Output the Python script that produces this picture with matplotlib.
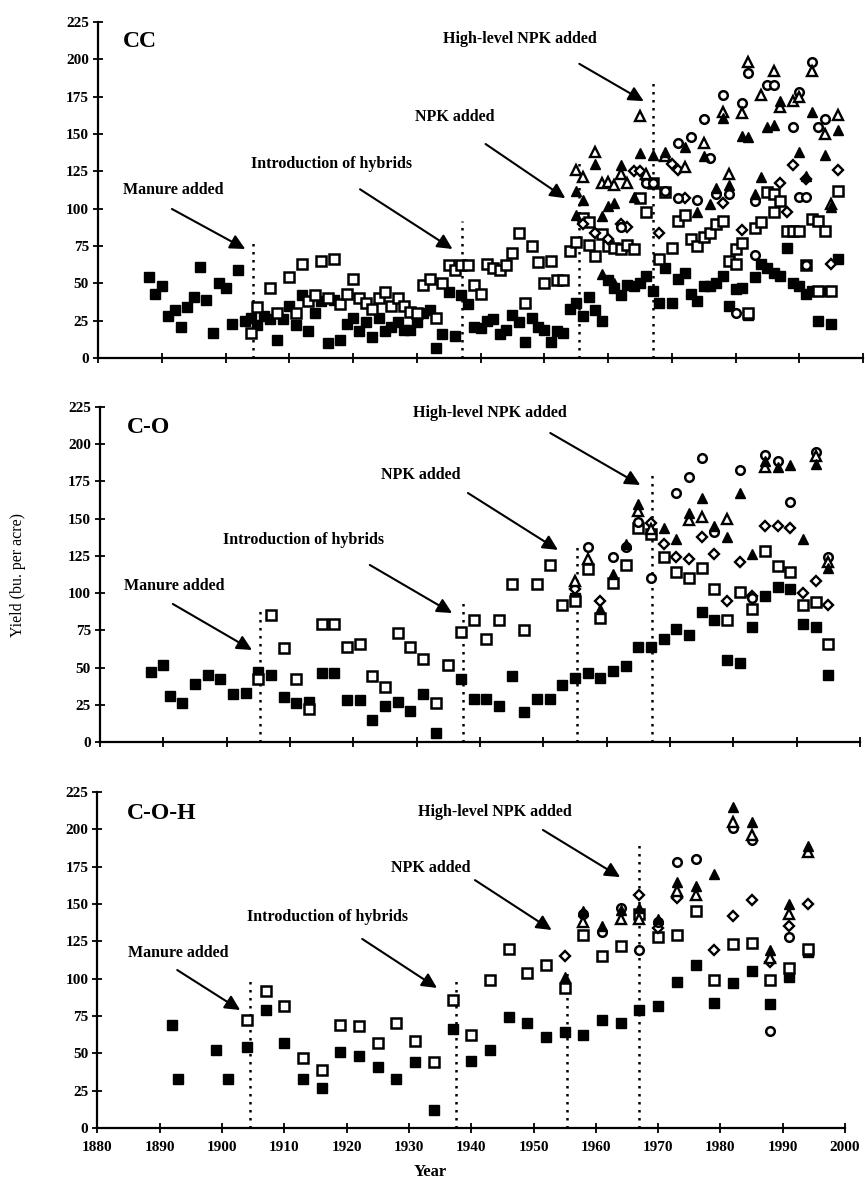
import matplotlib
matplotlib.use("Agg")
import matplotlib.pyplot as plt

# ---------------- DATA ----------------
# CC panel
cc_none_years = list(range(1888, 1997))
cc_none_vals = [54, 43, 48, 28, 32, 21, 34, 41, 61, 39, 17, 50, 47, 23, 59, 25, 27, 22, 28, 26,
                12, 26, 35, 22, 42, 18, 30, 38, 10, 39, 12, 23, 27, 18, 24, 14, 27, 18, 21, 24,
                19, 19, 24, 30, 32, 7, 16, 44, 15, 42, 36, 21, 20, 25, 26, 16, 19, 29, 24, 11,
                27, 21, 19, 11, 18, 17, 33, 37, 28, 41, 32, 25, 52, 47, 42, 49, 48, 50, 55, 45,
                37, 60, 37, 53, 57, 43, 38, 48, 48, 50, 55, 35, 46, 47, 29, 54, 63, 60, 57, 55,
                74, 50, 48, 43, 45, 25, 45, 23, 66]
cc_manure_years = [1904, 1905, 1907, 1908, 1910, 1911, 1912, 1913, 1914, 1915, 1916, 1917, 1918,
                   1919, 1920, 1921, 1922, 1923, 1924, 1925, 1926, 1927, 1928, 1929, 1930, 1931,
                   1932, 1933, 1934, 1935, 1936, 1937, 1938, 1939, 1940, 1941, 1942, 1943, 1944,
                   1945, 1946, 1947, 1948, 1949, 1950, 1951, 1952, 1953, 1954, 1955, 1956, 1957,
                   1957, 1958, 1959, 1960, 1961, 1962, 1963, 1964, 1965, 1966, 1967, 1968, 1969,
                   1970, 1971, 1972, 1973, 1974, 1975, 1976, 1977, 1978, 1979, 1980, 1980, 1981,
                   1982, 1983, 1984, 1985, 1986, 1986, 1987, 1988, 1989, 1990, 1991, 1992, 1993,
                   1993, 1994, 1995, 1996]
cc_manure_vals = [17, 34, 47, 30, 54, 30, 63, 38, 42, 65, 40, 66, 36, 43, 53, 40, 37, 33, 40, 44,
                  35, 40, 35, 31, 30, 49, 53, 27, 50, 62, 59, 62, 62, 49, 43, 63, 60, 59, 62, 70,
                  84, 37, 75, 64, 50, 65, 52, 52, 72, 78, 94, 76, 91, 68, 83, 75, 74, 73, 76, 73,
                  107, 98, 117, 66, 111, 74, 92, 96, 80, 75, 81, 84, 90, 92, 65, 63, 73, 77, 30,
                  87, 91, 111, 98, 110, 105, 85, 85, 85, 62, 93, 92, 45, 85, 45, 112]
cc_diamond_years = [1956, 1958, 1960, 1962, 1963, 1964, 1965, 1966, 1968, 1970, 1971, 1972, 1978,
                    1981, 1987, 1988, 1989, 1991, 1995, 1996]
cc_diamond_vals = [90, 84, 80, 90, 88, 125, 125, 120, 84, 130, 126, 107, 104, 86, 117, 98, 129,
                   120, 63, 126]
cc_circle_years = [1962, 1966, 1967, 1969, 1971, 1971, 1973, 1974, 1975, 1976, 1977, 1978, 1979,
                   1980, 1981, 1982, 1983, 1983, 1985, 1986, 1989, 1990, 1990, 1991, 1991, 1992,
                   1993, 1994]
cc_circle_vals = [88, 117, 117, 112, 144, 107, 148, 106, 160, 134, 110, 176, 110, 30, 171, 191,
                  69, 105, 183, 183, 155, 178, 108, 108, 62, 198, 155, 160]
cc_tri_open_years = [1955, 1956, 1958, 1959, 1960, 1961, 1962, 1963, 1965, 1966, 1969, 1972, 1975,
                     1978, 1979, 1981, 1982, 1984, 1986, 1987, 1989, 1990, 1992, 1994, 1995, 1996]
cc_tri_open_vals = [126, 121, 138, 117, 118, 116, 123, 117, 162, 123, 135, 128, 144, 165, 123,
                    164, 198, 176, 192, 168, 172, 175, 192, 150, 103, 163]
cc_tri_fill_years = [1955, 1955, 1956, 1958, 1959, 1959, 1960, 1961, 1961, 1962, 1964, 1965, 1967,
                     1969, 1972, 1974, 1975, 1976, 1977, 1978, 1979, 1981, 1982, 1983, 1984, 1985,
                     1986, 1987, 1990, 1991, 1992, 1994, 1995, 1996]
cc_tri_fill_vals = [112, 96, 106, 130, 95, 56, 102, 104, 50, 129, 108, 137, 136, 138, 141, 98,
                    135, 103, 114, 161, 116, 149, 148, 110, 121, 155, 156, 172, 138, 122, 165,
                    136, 101, 153]

# C-O panel
co_none_years = [1888, 1890, 1891, 1893, 1895, 1897, 1899, 1901, 1903, 1905, 1907, 1909, 1911,
                 1913, 1915, 1917, 1919, 1921, 1923, 1925, 1927, 1929, 1931, 1933, 1935, 1937,
                 1939, 1941, 1943, 1945, 1947, 1949, 1951, 1953, 1955, 1955, 1957, 1959, 1961,
                 1963, 1965, 1967, 1969, 1971, 1973, 1975, 1977, 1979, 1981, 1983, 1985, 1987,
                 1989, 1991, 1993, 1995]
co_none_vals = [47, 52, 31, 26, 39, 45, 42, 32, 33, 47, 45, 30, 26, 27, 46, 46, 28, 28, 15, 24,
                27, 21, 32, 6, 52, 42, 29, 29, 24, 44, 20, 29, 29, 38, 43, 97, 46, 43, 48, 51,
                64, 64, 69, 76, 72, 87, 82, 55, 53, 77, 98, 104, 103, 79, 77, 45]
co_manure_years = [1905, 1907, 1909, 1911, 1913, 1915, 1917, 1919, 1921, 1923, 1925, 1927, 1929,
                   1931, 1933, 1935, 1937, 1939, 1941, 1943, 1945, 1947, 1949, 1951, 1953, 1955,
                   1957, 1959, 1961, 1963, 1965, 1967, 1969, 1971, 1973, 1975, 1977, 1979, 1981,
                   1983, 1985, 1987, 1989, 1991, 1993, 1995]
co_manure_vals = [42, 85, 63, 42, 22, 79, 79, 64, 66, 44, 37, 73, 64, 56, 26, 52, 74, 82, 69, 82,
                  106, 75, 106, 119, 92, 95, 116, 83, 107, 119, 144, 140, 124, 114, 110, 117,
                  103, 82, 101, 89, 128, 118, 114, 92, 94, 66]
co_diamond_years = [1955, 1959, 1967, 1969, 1971, 1973, 1975, 1977, 1979, 1981, 1983, 1985, 1987,
                    1989, 1991, 1993, 1995]
co_diamond_vals = [103, 95, 147, 133, 124, 123, 138, 126, 95, 121, 98, 145, 145, 144, 100, 108, 92]
co_circle_years = [1957, 1961, 1963, 1965, 1967, 1971, 1973, 1975, 1977, 1981, 1983, 1985, 1987,
                   1989, 1993, 1995]
co_circle_vals = [131, 124, 131, 148, 110, 167, 178, 191, 141, 183, 97, 193, 189, 161, 195, 124]
co_tri_fill_years = [1959, 1961, 1963, 1965, 1969, 1971, 1973, 1975, 1977, 1979, 1981, 1983, 1985,
                     1987, 1989, 1991, 1993, 1995]
co_tri_fill_vals = [89, 113, 133, 160, 144, 136, 154, 164, 145, 138, 167, 126, 189, 185, 186, 136,
                    187, 117]
co_tri_open_years = [1955, 1957, 1965, 1967, 1973, 1975, 1979, 1985, 1993, 1995]
co_tri_open_vals = [108, 123, 155, 143, 149, 151, 150, 185, 192, 121]

# C-O-H panel
coh_none_years = [1892, 1893, 1899, 1901, 1904, 1907, 1910, 1913, 1916, 1919, 1922, 1925, 1928,
                  1931, 1934, 1937, 1940, 1943, 1946, 1949, 1952, 1955, 1958, 1961, 1964, 1967,
                  1970, 1973, 1976, 1979, 1982, 1985, 1988, 1991, 1994]
coh_none_vals = [69, 33, 52, 33, 54, 79, 57, 33, 27, 51, 48, 41, 33, 44, 12, 66, 45, 52, 74, 70,
                 61, 64, 62, 72, 70, 79, 82, 98, 109, 84, 97, 105, 83, 101, 118]
coh_manure_years = [1904, 1907, 1910, 1913, 1916, 1919, 1922, 1925, 1928, 1931, 1934, 1937, 1940,
                    1943, 1946, 1949, 1952, 1955, 1958, 1961, 1964, 1967, 1970, 1973, 1976, 1979,
                    1982, 1985, 1988, 1991, 1994]
coh_manure_vals = [72, 92, 82, 47, 39, 69, 68, 57, 70, 58, 44, 86, 62, 99, 120, 104, 109, 94, 129,
                   115, 122, 143, 128, 129, 145, 99, 123, 124, 99, 107, 120]
coh_diamond_years = [1955, 1967, 1970, 1973, 1979, 1982, 1985, 1988, 1991, 1994]
coh_diamond_vals = [115, 156, 134, 154, 119, 142, 153, 111, 135, 150]
coh_circle_years = [1958, 1961, 1964, 1967, 1970, 1973, 1976, 1982, 1985, 1988, 1991]
coh_circle_vals = [143, 131, 147, 119, 138, 178, 180, 201, 193, 65, 128]
coh_tri_fill_years = [1955, 1958, 1961, 1964, 1967, 1970, 1973, 1976, 1979, 1982, 1985, 1988,
                      1991, 1994]
coh_tri_fill_vals = [101, 145, 135, 146, 147, 140, 165, 162, 170, 215, 205, 119, 150, 189]
coh_tri_open_years = [1958, 1964, 1967, 1973, 1976, 1982, 1985, 1988, 1991, 1994]
coh_tri_open_vals = [138, 140, 140, 159, 156, 205, 196, 114, 143, 185]

panel_names = ["CC", "C-O", "C-O-H"]
event_labels = ["Manure added", "Introduction of hybrids", "NPK added", "High-level NPK added"]
x_ticks = list(range(1880, 2001, 10))
y_ticks = list(range(0, 226, 25))

# ---------------- FIGURE ----------------
SERIF = ["Liberation Serif", "DejaVu Serif"]
plt.rcParams["font.family"] = SERIF

fig = plt.figure(figsize=(8.65, 11.91), dpi=100)

axes_rects = [
    [0.1133, 0.6994, 0.8844, 0.2821],
    [0.1156, 0.3770, 0.8786, 0.2813],
    [0.1127, 0.0529, 0.8642, 0.2821],
]

panels = [
    [(cc_none_years, cc_none_vals), (cc_manure_years, cc_manure_vals),
     (cc_diamond_years, cc_diamond_vals), (cc_circle_years, cc_circle_vals),
     (cc_tri_open_years, cc_tri_open_vals), (cc_tri_fill_years, cc_tri_fill_vals)],
    [(co_none_years, co_none_vals), (co_manure_years, co_manure_vals),
     (co_diamond_years, co_diamond_vals), (co_circle_years, co_circle_vals),
     (co_tri_open_years, co_tri_open_vals), (co_tri_fill_years, co_tri_fill_vals)],
    [(coh_none_years, coh_none_vals), (coh_manure_years, coh_manure_vals),
     (coh_diamond_years, coh_diamond_vals), (coh_circle_years, coh_circle_vals),
     (coh_tri_open_years, coh_tri_open_vals), (coh_tri_fill_years, coh_tri_fill_vals)],
]

styles = [
    dict(marker="s", ms=7.2, mfc="black", mec="black", mew=1.0),
    dict(marker="s", ms=7.0, mfc="white", mec="black", mew=1.8),
    dict(marker="D", ms=5.2, mfc="white", mec="black", mew=1.7),
    dict(marker="o", ms=6.2, mfc="white", mec="black", mew=1.8),
    dict(marker="^", ms=7.5, mfc="white", mec="black", mew=1.7),
    dict(marker="^", ms=7.5, mfc="black", mec="black", mew=1.0),
]

# layout of annotations per panel: (label pos, arrow tail, arrow head, vline x, vline top)
annot = [
    dict(title=(1883.9, 212),
         ev=[((1891.8, 112.5), (1891.6, 99.8), (1903.1, 73), 1904.3, 80),
             ((1916.7, 130), (1921.1, 113), (1935.6, 73), 1937.1, 92),
             ((1935.9, 161.4), (1940.8, 143.3), (1953.3, 107), 1955.4, 133),
             ((1946.1, 213.7), (1955.5, 197), (1965.6, 172), 1967.1, 184)]),
    dict(title=(1884.3, 211.5),
         ev=[((1891.8, 104.8), (1891.5, 92.7), (1904, 61.8), 1905.3, 88.6),
             ((1912.2, 135.7), (1922.6, 118.9), (1935.6, 86.6), 1937.3, 95.4),
             ((1930.7, 179.3), (1938.1, 167.2), (1952.3, 129), 1955.3, 133.6),
             ((1941.6, 221), (1951.1, 207.5), (1965.3, 172.6), 1967.2, 182.7)]),
    dict(title=(1884.7, 210.3),
         ev=[((1892.9, 117.2), (1892.8, 105.8), (1902.9, 79), 1904.5, 100.4),
             ((1917, 141.3), (1922.5, 126.6), (1934.5, 93.8), 1937.5, 101),
             ((1933.5, 174), (1940.6, 166), (1952.9, 132.6), 1955.4, 103.8),
             ((1943.8, 211.6), (1951.5, 199.6), (1963.9, 168), 1966.9, 189.5)]),
]

for i, rect in enumerate(axes_rects):
    ax = fig.add_axes(rect)
    ax.set_xlim(1880, 2000)
    ax.set_ylim(0, 225)
    for sp in ("top", "right"):
        ax.spines[sp].set_visible(False)
    for sp in ("left", "bottom"):
        ax.spines[sp].set_linewidth(1.6)
    ax.set_xticks(x_ticks)
    ax.set_yticks(y_ticks)
    ax.tick_params(direction="inout", length=7, width=1.3, pad=3)
    ax.set_yticklabels([str(v) for v in y_ticks], fontsize=11, fontweight="bold")
    if i == 2:
        ax.set_xticklabels([str(v) for v in x_ticks], fontsize=11, fontweight="bold")
        ax.tick_params(axis="x", pad=6)
    else:
        ax.set_xticklabels([])

    a = annot[i]
    for (lab_xy, tail, head, vx, vtop), lab in zip(a["ev"], event_labels):
        ax.plot([vx, vx], [0, vtop], color="black", lw=1.8, ls=(0, (1, 2.2)), zorder=1)
        ax.annotate("", xy=head, xytext=tail,
                    arrowprops=dict(arrowstyle="-|>,head_length=0.9,head_width=0.45",
                                    color="black", lw=1.5, shrinkA=0, shrinkB=0))
        ax.text(lab_xy[0], lab_xy[1], lab, ha="center", va="center",
                fontsize=11.5, fontweight="bold")
    ax.text(a["title"][0], a["title"][1], panel_names[i], ha="left", va="center",
            fontsize=17, fontweight="bold")

    for (yrs, vals), st in zip(panels[i], styles):
        ax.plot(yrs, vals, ls="none", clip_on=False, zorder=3, **st)

fig.text(0.021, 0.517, "Yield (bu. per acre)", rotation=90, ha="center", va="center",
         fontsize=11.5)
fig.text(0.497, 0.016, "Year", ha="center", va="center", fontsize=12, fontweight="bold")

fig.savefig("out.png", dpi=100, facecolor="white")
